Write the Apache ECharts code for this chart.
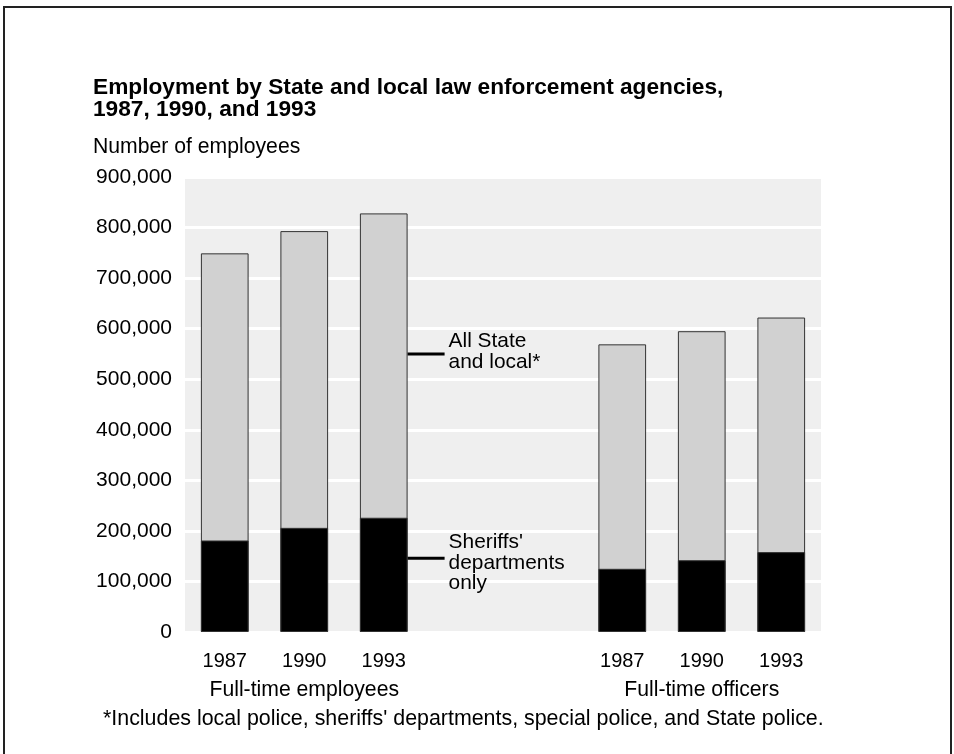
<!DOCTYPE html>
<html>
<head>
<meta charset="utf-8">
<script src="https://cdn.jsdelivr.net/npm/echarts@6/dist/echarts.min.js"></script>
<style>
  html, body { margin: 0; padding: 0; background: #fff; }
  #chart { width: 954px; height: 754px; }
</style>
</head>
<body>
<div id="chart"></div>
<script>
// two groups of three years, two empty slots between them
var categories = ['1987', '1990', '1993', '', '', '1987', '1990', '1993'];
var allStateLocal = [749000, 793000, 828000, null, null, 569000, 595000, 622000];
var sheriffsOnly = [181000, 206000, 226000, null, null, 125000, 142000, 158000];
var groupLabels = ['Full-time employees', 'Full-time officers'];
var groupCenters = [1, 6]; // category index under which each group label sits

var FONT = 'Liberation Sans, Arial, Helvetica, sans-serif';

var myChart = echarts.init(document.getElementById('chart'));

var option = {
  animation: false,
  backgroundColor: '#fff',
  grid: {
    left: 185,
    right: 133,
    top: 177,
    bottom: 122,
    show: true,
    backgroundColor: '#efefef',
    borderWidth: 0
  },
  xAxis: {
    type: 'category',
    data: categories,
    axisLine: { show: false },
    axisTick: { show: false },
    axisLabel: {
      interval: 0,
      color: '#000',
      fontSize: 20,
      fontFamily: FONT,
      margin: 19
    }
  },
  yAxis: {
    type: 'value',
    min: 0,
    max: 900000,
    interval: 100000,
    axisLine: { show: false },
    axisTick: { show: false },
    axisLabel: {
      color: '#000',
      fontSize: 21,
      fontFamily: FONT,
      margin: 13,
      formatter: function (v) { return v.toLocaleString('en-US'); }
    },
    splitLine: {
      lineStyle: { color: '#fff', width: 3 }
    }
  },
  series: [
    {
      name: 'All State and local',
      type: 'bar',
      barWidth: '60%',
      barGap: '-100%',
      data: allStateLocal,
      itemStyle: { color: '#d1d1d1', borderColor: '#333', borderWidth: 1 },
      z: 2
    },
    {
      name: "Sheriffs' departments only",
      type: 'bar',
      barWidth: '60%',
      barGap: '-100%',
      data: sheriffsOnly,
      itemStyle: { color: '#000', borderColor: '#333', borderWidth: 1 },
      z: 3
    }
  ]
};
myChart.setOption(option);

// annotation positions come from the chart's own scales
function px(idx, val) {
  return myChart.convertToPixel({ gridIndex: 0 }, [idx, val]);
}
var bandW = px(1, 0)[0] - px(0, 0)[0];
var barRight = px(2, 0)[0] + bandW * 0.3;
var allY = px(2, 550000)[1];
var sherY = px(2, 146000)[1];
var labelY = px(0, 0)[1];

function txt(text, x, y, size, extra) {
  var style = {
    text: text, x: x, y: y,
    fontSize: size, fontFamily: FONT, fill: '#000',
    verticalAlign: 'top', align: 'left'
  };
  for (var k in extra) style[k] = extra[k];
  return { type: 'text', silent: true, style: style, z: 10 };
}

var graphics = [
  {
    type: 'rect', silent: true, z: 10,
    shape: { x: 4, y: 7, width: 947, height: 800 },
    style: { fill: 'none', stroke: '#222', lineWidth: 2 }
  },
  txt('Employment by State and local law enforcement agencies,\n1987, 1990, and 1993', 93, 77, 22.7,
      { fontWeight: 'bold', lineHeight: 22 }),
  txt('Number of employees', 93, 137, 21.2, {}),
  { type: 'line', silent: true, z: 10,
    shape: { x1: barRight, y1: allY, x2: barRight + 37, y2: allY },
    style: { stroke: '#000', lineWidth: 3 } },
  txt('All State\nand local*', barRight + 41, allY - 23, 20.9, { lineHeight: 21 }),
  { type: 'line', silent: true, z: 10,
    shape: { x1: barRight, y1: sherY, x2: barRight + 37, y2: sherY },
    style: { stroke: '#000', lineWidth: 3 } },
  txt("Sheriffs'\ndepartments\nonly", barRight + 41, sherY - 26, 20.9, { lineHeight: 20.5 }),
  txt("*Includes local police, sheriffs' departments, special police, and State police.", 103, 709, 21.4, {})
];
groupLabels.forEach(function (g, i) {
  graphics.push(txt(g, px(groupCenters[i], 0)[0], labelY + 48, 21.2, { align: 'center' }));
});
myChart.setOption({ graphic: graphics });
</script>
</body>
</html>
